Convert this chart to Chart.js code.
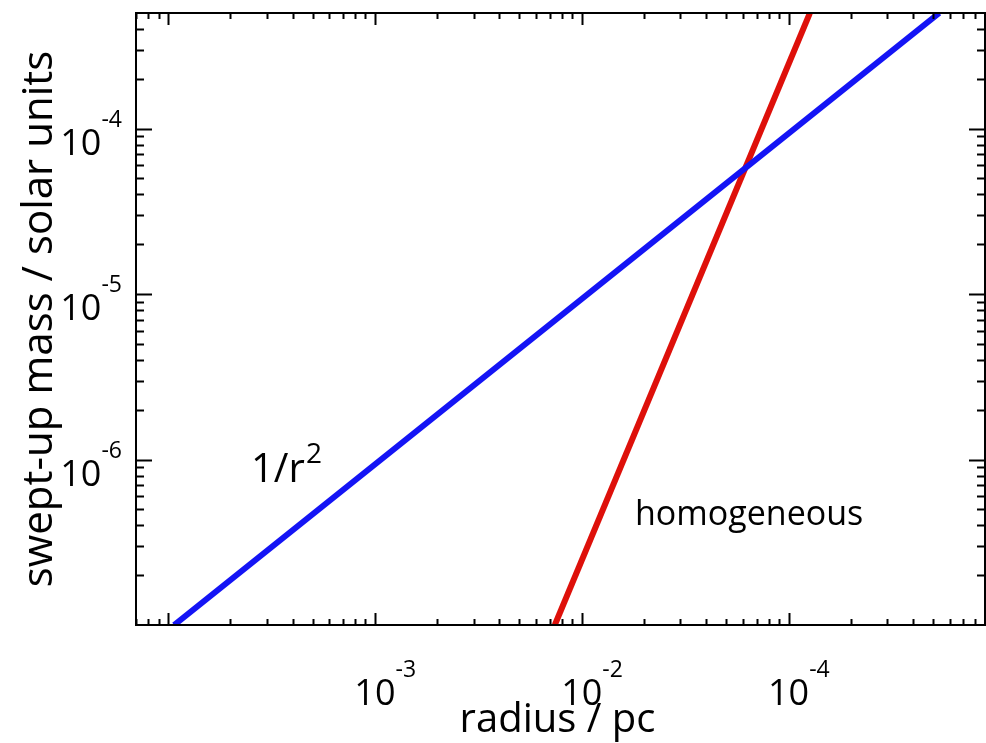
<!DOCTYPE html>
<html>
<head>
<meta charset="utf-8">
<script src="https://cdn.jsdelivr.net/npm/chart.js@4"></script>
<style>
  html, body { margin: 0; padding: 0; background: #fff; }
  #wrap { width: 986px; height: 743px; }
</style>
</head>
<body>
<div id="wrap"><canvas id="massChart" width="986" height="743"></canvas></div>
<script>
// axis ranges (log-log)
const xRange = [7e-5, 0.89];
const yRange = [1e-7, 5e-4];

// major ticks and their labels, as printed on the original (third x label reads 10^-4)
const xTickValues = [1e-4, 1e-3, 1e-2, 1e-1];
const xTickLabels = ['', '10^-3', '10^-2', '10^-4'];
const yTickValues = [1e-6, 1e-5, 1e-4];
const yTickLabels = ['10^-6', '10^-5', '10^-4'];

const r2Radius = [1.07e-4, 0.535];
const r2Mass = [1e-7, 5e-4];
const homRadius = [7.41e-3, 0.1267];
const homMass = [1e-7, 5e-4];

const FONT = '"Open Sans", "DejaVu Sans", sans-serif';

function toPoints(xs, ys) {
    return xs.map((x, i) => ({ x: x, y: ys[i] }));
}

function minorValues(min, max) {
    const vals = [];
    for (let e = Math.floor(Math.log10(min)); e <= Math.ceil(Math.log10(max)); e++) {
        for (let m = 2; m <= 9; m++) {
            const v = m * Math.pow(10, e);
            if (v > min && v < max) vals.push(v);
        }
    }
    return vals;
}

// "10^-3" -> big base, small raised exponent
function drawPowerLabel(ctx, text, x, y, align) {
    const parts = text.split('^');
    if (!parts[0]) return;
    ctx.font = '36px ' + FONT;
    const baseW = ctx.measureText(parts[0]).width;
    ctx.font = '23px ' + FONT;
    const expW = ctx.measureText(parts[1]).width;
    let left = x;
    if (align === 'right') left = x - baseW - expW;
    if (align === 'base-center') left = x - baseW / 2;
    ctx.textAlign = 'left';
    ctx.textBaseline = 'alphabetic';
    ctx.font = '36px ' + FONT;
    ctx.fillText(parts[0], left, y);
    ctx.font = '23px ' + FONT;
    ctx.fillText(parts[1], left + baseW, y - 28);
}

const framePlugin = {
    id: 'frame',
    afterDatasetsDraw(chart) {
        const ctx = chart.ctx;
        const a = chart.chartArea;
        const xs = chart.scales.x;
        const ys = chart.scales.y;
        ctx.save();
        ctx.strokeStyle = '#000';
        ctx.fillStyle = '#000';
        ctx.lineWidth = 2;
        ctx.strokeRect(a.left, a.top, a.right - a.left, a.bottom - a.top);

        ctx.beginPath();
        xTickValues.forEach(v => {
            const px = Math.round(xs.getPixelForValue(v)) + 0.5;
            ctx.moveTo(px, a.bottom); ctx.lineTo(px, a.bottom - 12);
            ctx.moveTo(px, a.top); ctx.lineTo(px, a.top + 12);
        });
        minorValues(xRange[0], xRange[1]).forEach(v => {
            const px = Math.round(xs.getPixelForValue(v)) + 0.5;
            ctx.moveTo(px, a.bottom); ctx.lineTo(px, a.bottom - 6);
            ctx.moveTo(px, a.top); ctx.lineTo(px, a.top + 6);
        });
        yTickValues.forEach(v => {
            const py = Math.round(ys.getPixelForValue(v)) + 0.5;
            ctx.moveTo(a.left, py); ctx.lineTo(a.left + 16, py);
            ctx.moveTo(a.right, py); ctx.lineTo(a.right - 16, py);
        });
        minorValues(yRange[0], yRange[1]).forEach(v => {
            const py = Math.round(ys.getPixelForValue(v)) + 0.5;
            ctx.moveTo(a.left, py); ctx.lineTo(a.left + 8, py);
            ctx.moveTo(a.right, py); ctx.lineTo(a.right - 8, py);
        });
        ctx.stroke();

        // tick labels
        xTickValues.forEach((v, i) => {
            drawPowerLabel(ctx, xTickLabels[i], xs.getPixelForValue(v), a.bottom + 80, 'base-center');
        });
        yTickValues.forEach((v, i) => {
            drawPowerLabel(ctx, yTickLabels[i], a.left - 14, ys.getPixelForValue(v) + 26, 'right');
        });

        // axis titles
        ctx.textAlign = 'center';
        ctx.textBaseline = 'alphabetic';
        ctx.font = '40px ' + FONT;
        ctx.fillText('radius / pc', (a.left + a.right) / 2 - 3, 732);
        ctx.save();
        ctx.translate(52, (a.top + a.bottom) / 2);
        ctx.rotate(-Math.PI / 2);
        ctx.font = '42px ' + FONT;
        ctx.fillText('swept-up mass / solar units', 0, 0);
        ctx.restore();

        // curve annotations
        ctx.textAlign = 'left';
        ctx.font = '40px ' + FONT;
        ctx.fillText('1/r', 251, 482);
        const w = ctx.measureText('1/r').width;
        ctx.font = '28px ' + FONT;
        ctx.fillText('2', 251 + w + 1, 463);
        ctx.font = '34px ' + FONT;
        ctx.fillText('homogeneous', 635, 525);
        ctx.restore();
    }
};

const ctx = document.getElementById('massChart').getContext('2d');
const massChart = new Chart(ctx, {
    type: 'scatter',
    data: {
        datasets: [{
            label: '1/r^2',
            data: toPoints(r2Radius, r2Mass),
            showLine: true,
            borderColor: 'rgb(20, 20, 245)',
            borderWidth: 6,
            pointRadius: 0
        }, {
            label: 'homogeneous',
            data: toPoints(homRadius, homMass),
            showLine: true,
            borderColor: 'rgb(222, 16, 10)',
            borderWidth: 6,
            pointRadius: 0
        }]
    },
    options: {
        responsive: false,
        animation: false,
        events: [],
        layout: { padding: { left: 136, top: 13, right: 1, bottom: 118 } },
        plugins: { legend: { display: false }, tooltip: { enabled: false } },
        scales: {
            x: { type: 'logarithmic', display: false, min: xRange[0], max: xRange[1] },
            y: { type: 'logarithmic', display: false, min: yRange[0], max: yRange[1] }
        }
    },
    plugins: [framePlugin]
});
</script>
</body>
</html>
